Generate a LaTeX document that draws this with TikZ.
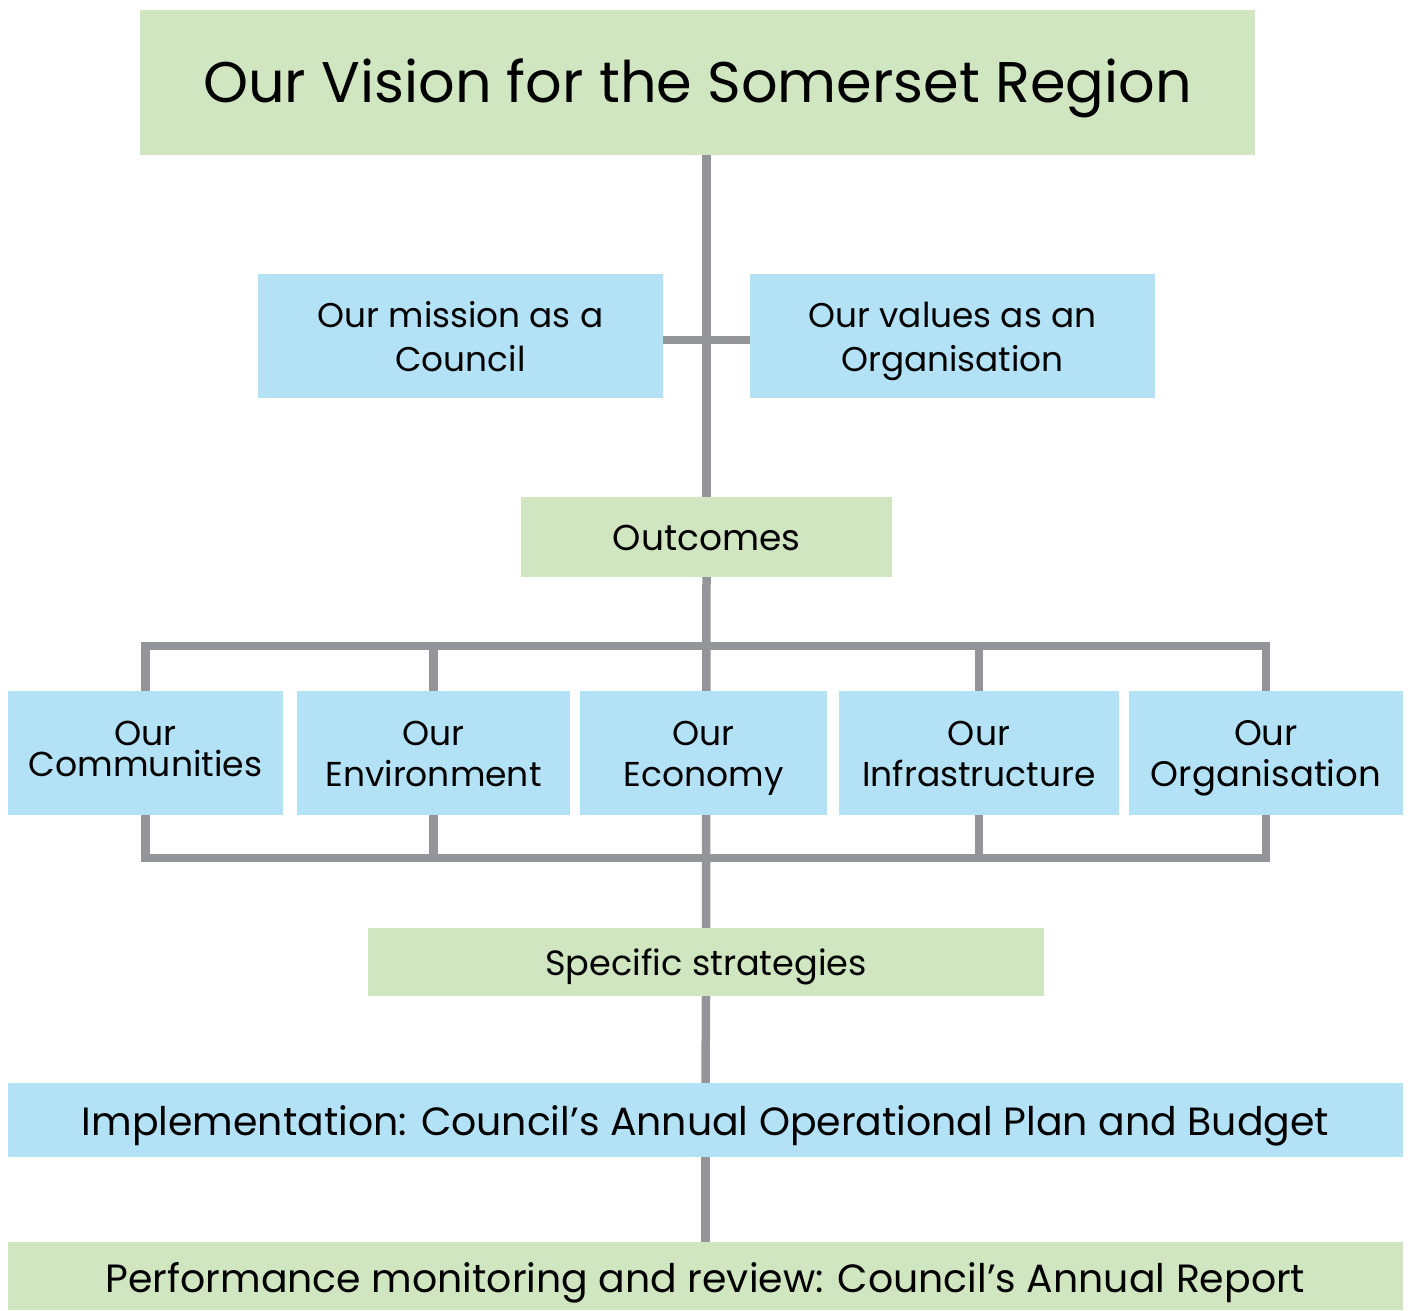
\documentclass[tikz,border=0pt]{standalone}
\usepackage{fontspec}
\setmainfont{Poppins}
\usetikzlibrary{backgrounds}
\definecolor{vgreen}{HTML}{CFE6C0}
\definecolor{vblue}{HTML}{B3E1F5}
\definecolor{vgray}{HTML}{939598}
\tikzset{
  box/.style={rectangle, inner sep=0pt, outer sep=0pt, align=center, text=black,
    font=\fontsize{34.5}{41}\selectfont},
  gbox/.style={box, fill=vgreen},
  bbox/.style={box, fill=vblue},
  conn/.style={draw=vgray, line width=8.5pt, line join=miter},
}
\begin{document}
\begin{tikzpicture}[x=1pt, y=-1pt]
\useasboundingbox (0,0) rectangle (1410,1310);
\node[gbox, minimum width=1115pt, minimum height=145pt, font=\fontsize{57.3}{70}\selectfont] (vision) at (697.5,82.5) {};
\node[text=black, font=\fontsize{57.3}{70}\selectfont, inner sep=0pt] at ([yshift=-6pt]vision.center) {\strut Our Vision for the Somerset Region\strut};
\node[bbox, minimum width=405pt, minimum height=124pt, font=\fontsize{34.3}{44}\selectfont] (mission) at (460.5,336) {};
\node[box, font=\fontsize{34.3}{44}\selectfont] at ([yshift=-5pt]mission.center) {\strut Our mission as a\\Council\strut};
\node[bbox, minimum width=405pt, minimum height=124pt] (values) at (952.5,336) {};
\node[box, font=\fontsize{34.3}{44}\selectfont] at ([yshift=-5pt]values.center) {\strut Our values as an\\Organisation\strut};
\node[gbox, minimum width=371pt, minimum height=80pt] (outcomes) at (706.5,537) {};
\node[box, font=\fontsize{36}{44}\selectfont] at ([yshift=-5pt]outcomes.center) {\strut Outcomes\strut};
\node[bbox, minimum width=275pt, minimum height=124pt] (comm) at (145.5,753) {};
\node[box, font=\fontsize{34.6}{31}\selectfont] at ([yshift=4pt]comm.center) {Our\\Communities};
\node[bbox, minimum width=273pt, minimum height=124pt] (env) at (433.5,753) {};
\node[box] at ([yshift=-5pt]env.center) {\strut Our\\Environment\strut};
\node[bbox, minimum width=247pt, minimum height=124pt] (econ) at (703.5,753) {};
\node[box] at ([yshift=-5pt]econ.center) {\strut Our\\Economy\strut};
\node[bbox, minimum width=280pt, minimum height=124pt] (infra) at (979,753) {};
\node[box] at ([yshift=-5pt]infra.center) {\strut Our\\Infrastructure\strut};
\node[bbox, minimum width=274pt, minimum height=124pt] (org) at (1266,753) {};
\node[box, font=\fontsize{35.5}{41}\selectfont] at ([yshift=-5pt]org.center) {\strut Our\\Organisation\strut};
\node[gbox, minimum width=676pt, minimum height=68pt] (strat) at (706,962) {};
\node[box, font=\fontsize{35.1}{44}\selectfont] at ([yshift=-5pt]strat.center) {\strut Specific strategies\strut};
\node[bbox, minimum width=1395pt, minimum height=74pt] (impl) at (705.5,1120) {};
\node[box, font=\fontsize{39.4}{44}\selectfont] at ([yshift=-7pt]impl.center) {\strut Implementation: Council’s Annual Operational Plan and Budget\strut};
\node[gbox, minimum width=1395pt, minimum height=68pt] (perf) at (705.5,1276) {};
\node[box, font=\fontsize{39.4}{44}\selectfont] at ([yshift=-8pt]perf.center) {\strut Performance monitoring and review: Council’s Annual Report\strut};
\coordinate (bt) at (706,646);
\coordinate (bb) at (706,858);
\begin{scope}[on background layer]
\draw[conn] (vision.south -| outcomes.north) -- (outcomes.north);
\draw[conn] ([yshift=-4pt]mission.east) -- ([yshift=-4pt]values.west);
\draw[conn] (outcomes.south) -- (strat.north);
\draw[conn] (comm.north) |- (bt) -| (org.north);
\draw[conn] (env.north) -- (env.north |- bt);
\draw[conn] (infra.north) -- (infra.north |- bt);
\draw[conn] (comm.south) |- (bb) -| (org.south);
\draw[conn] (env.south) -- (env.south |- bb);
\draw[conn] (infra.south) -- (infra.south |- bb);
\draw[conn] (strat.south) -- (impl.north);
\draw[conn] (impl.south) -- (perf.north);
\end{scope}
\end{tikzpicture}
\end{document}
